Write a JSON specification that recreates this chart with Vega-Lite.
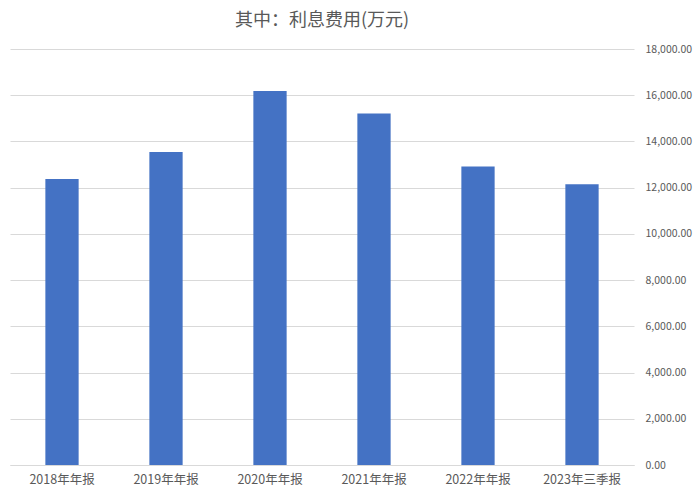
{
  "$schema": "https://vega.github.io/schema/vega-lite/v6.json",
  "width": 624,
  "height": 416,
  "padding": {"left": 10, "top": 12, "right": 3, "bottom": 5},
  "background": "white",
  "config": {
    "font": "Noto Sans CJK SC",
    "view": {"stroke": null}
  },
  "title": {
    "text": "其中：利息费用(万元)",
    "fontSize": 18,
    "fontWeight": "normal",
    "color": "#595959",
    "anchor": "middle",
    "offset": 14
  },
  "data": {
    "values": [
      {"period": "2018年年报", "value": 12380},
      {"period": "2019年年报", "value": 13540},
      {"period": "2020年年报", "value": 16180},
      {"period": "2021年年报", "value": 15210},
      {"period": "2022年年报", "value": 12920},
      {"period": "2023年三季报", "value": 12150}
    ]
  },
  "mark": {"type": "bar", "color": "#4472C4"},
  "encoding": {
    "x": {
      "field": "period",
      "type": "nominal",
      "sort": null,
      "title": null,
      "scale": {"paddingInner": 0.68, "paddingOuter": 0.34},
      "axis": {
        "labelAngle": 0,
        "labelColor": "#595959",
        "labelFontSize": 12.5,
        "ticks": false,
        "domainColor": "#d9d9d9",
        "labelPadding": 8
      }
    },
    "y": {
      "field": "value",
      "type": "quantitative",
      "title": null,
      "scale": {"domain": [0, 18000]},
      "axis": {
        "orient": "right",
        "values": [0, 2000, 4000, 6000, 8000, 10000, 12000, 14000, 16000, 18000],
        "format": ",.2f",
        "labelColor": "#595959",
        "labelFontSize": 10.5,
        "ticks": false,
        "domain": false,
        "gridColor": "#d9d9d9",
        "labelPadding": 11
      }
    }
  }
}
